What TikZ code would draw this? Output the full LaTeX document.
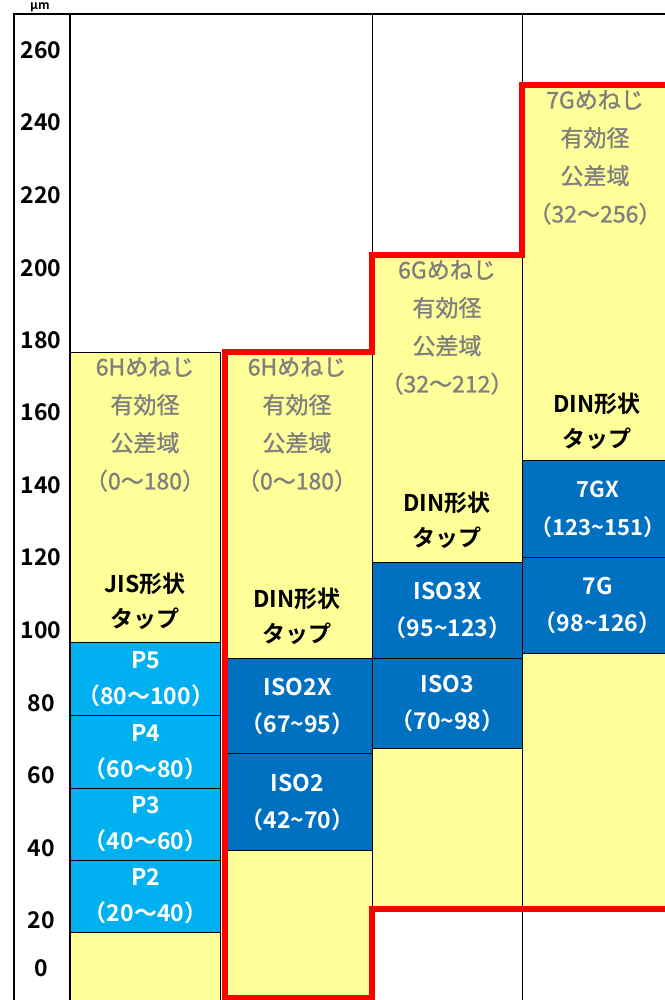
\documentclass[tikz,border=0pt]{standalone}
\usepackage{fontspec}
\setmainfont{Noto Sans CJK JP}[BoldFont={* Bold}]
\newfontfamily\medfont{Noto Sans CJK JP}[FakeBold=1.2]
\definecolor{zoneyellow}{HTML}{FFFF99}
\definecolor{tapblue}{HTML}{00B0F0}
\definecolor{isoblue}{HTML}{0070C0}
\definecolor{zonegray}{HTML}{7F7F7F}
\definecolor{limitred}{HTML}{FF0000}
\begin{document}
\begin{tikzpicture}[x=1pt, y=-1pt,
    zone/.style={draw, line width=1.2pt, fill=zoneyellow, minimum width=150pt, inner sep=0pt, anchor=north west},
    tapbox/.style={draw, line width=1.2pt, fill=tapblue, text=white, font=\fontsize{23}{36}\selectfont\bfseries, align=center, minimum width=150pt, inner sep=0pt, anchor=north west},
    isobox/.style={tapbox, fill=isoblue, font=\fontsize{23}{37}\selectfont\bfseries},
    spectext/.style={text=zonegray, font=\fontsize{23}{38}\selectfont\medfont, align=center, anchor=north, inner sep=0pt},
    taptext/.style={font=\fontsize{23}{35}\selectfont\bfseries, align=center, anchor=north, inner sep=0pt},
    tick/.style={font=\fontsize{23}{23}\selectfont\bfseries}]
  \useasboundingbox (0,0) rectangle (664,1000);

  % Frame of the table
  \draw[line width=1.2pt] (14,1005) -- (14,14) -- (672,14);
  \draw[line width=1.2pt] (70,14) -- (70,1005);
  \draw[line width=1pt] (372,14) -- (372,1005);
  \draw[line width=1pt] (522,14) -- (522,1005);
  \node[font=\fontsize{12}{12}\selectfont\bfseries, anchor=south, inner sep=0pt] (unit) at (40,12) {μm};

  % Axis
  \foreach \v/\y in {260/50, 240/122, 220/195, 200/268, 180/340, 160/412, 140/485,
                     120/557, 100/630, 80/703, 60/775, 40/848, 20/920, 0/968}
    \node[tick] (t\v) at (41,\y) {\v};

  % Tolerance zones
  \node[zone, minimum height=660pt] (zoneA) at (70,352) {};
  \node[zone, minimum height=646pt] (zoneB) at (222,352) {};
  \node[zone, minimum height=653pt] (zoneC) at (372,255) {};
  \node[zone, minimum height=823pt] (zoneD) at (522,85) {};

  \node[spectext] (specA) at (145,357) {6Hめねじ\\有効径\\公差域\\（0～180）};
  \node[spectext] (specB) at (297,357) {6Hめねじ\\有効径\\公差域\\（0～180）};
  \node[spectext] (specC) at (447,260) {6Gめねじ\\有効径\\公差域\\（32～212）};
  \node[spectext] (specD) at (595,90) {7Gめねじ\\有効径\\公差域\\（32～256）};

  \node[taptext] (tapA) at (145,573) {JIS形状\\タップ};
  \node[taptext] (tapB) at (297,588) {DIN形状\\タップ};
  \node[taptext] (tapC) at (447,492) {DIN形状\\タップ};
  \node[taptext] (tapD) at (597,393) {DIN形状\\タップ};

  % Tap classes
  \node[tapbox, minimum height=73pt] (p5) at (70,642) {P5\\（80～100）};
  \node[tapbox, minimum height=73pt] (p4) at (70,715) {P4\\（60～80）};
  \node[tapbox, minimum height=72pt] (p3) at (70,788) {P3\\（40～60）};
  \node[tapbox, minimum height=72pt] (p2) at (70,860) {P2\\（20～40）};

  \node[isobox, minimum height=95pt] (iso2x) at (222,658) {ISO2X\\（67\textasciitilde95）};
  \node[isobox, minimum height=97pt] (iso2) at (222,753) {ISO2\\（42\textasciitilde70）};
  \node[isobox, minimum height=96pt] (iso3x) at (372,562) {ISO3X\\（95\textasciitilde123）};
  \node[isobox, minimum height=90pt] (iso3) at (372,658) {ISO3\\（70\textasciitilde98）};
  \node[isobox, minimum height=97pt, font=\fontsize{22}{38}\selectfont\bfseries] (g7x) at (522,460) {7GX\\（123\textasciitilde151）};
  \node[isobox, minimum height=96pt] (g7) at (522,557) {7G\\（98\textasciitilde126）};

  % DIN range outline
  \draw[limitred, line width=6pt, line join=miter]
    (225,998) -- (225,352) -- (372,352) -- (372,255) -- (522,255) -- (522,85)
    -- (680,85) -- (680,909) -- (372,909) -- (372,998) -- cycle;
\end{tikzpicture}
\end{document}
